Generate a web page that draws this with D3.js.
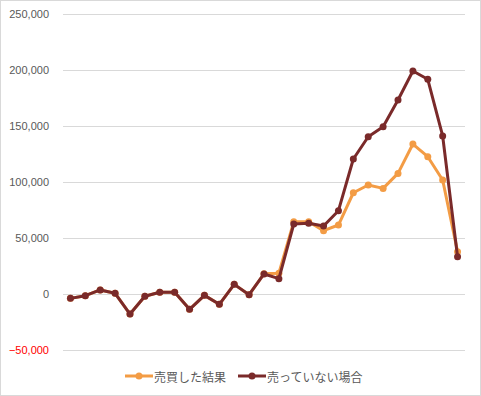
<!DOCTYPE html>
<html>
<head>
<meta charset="utf-8">
<script src="https://cdn.jsdelivr.net/npm/d3@7"></script>
<style>
  body { margin: 0; background: #fff; }
  text { font-family: "Noto Sans CJK JP", "Liberation Sans", sans-serif; }
</style>
</head>
<body>
<div id="chart"></div>
<script>
// Data
const periods = d3.range(1, 28);
const seriesNames = ["売買した結果", "売っていない場合"];
const traded = [-3900, -1500, 3600, 600, -17900, -2000, 1500, 1500, -13700, -1200, -9200, 8600, -600,
  18000, 18500, 64600, 64600, 56500, 61600, 90400, 97300, 94300, 107700, 133900, 122600, 101800, 37800];
const held = [-3900, -1500, 3600, 600, -17900, -2000, 1500, 1500, -13700, -1200, -9200, 8600, -600,
  17900, 13700, 62500, 63100, 60700, 74400, 120500, 140400, 149400, 173200, 199100, 191700, 141100, 33300];
const yTicks = [-50000, 0, 50000, 100000, 150000, 200000, 250000];
const colors = ["#F39C45", "#7A2A2A"];

const width = 481, height = 396;
const svg = d3.select("#chart").append("svg")
    .attr("width", width)
    .attr("height", height);

// Border
svg.append("rect")
    .attr("x", 0.5).attr("y", 0.5)
    .attr("width", width - 1).attr("height", height - 1)
    .attr("fill", "#fff")
    .attr("stroke", "#d9d9d9");

// Scales
const xScale = d3.scaleBand()
    .domain(periods)
    .range([63, 465]);
const yScale = d3.scaleLinear()
    .domain([-50000, 250000])
    .range([350, 14]);

// Gridlines
svg.append("g")
  .selectAll("line")
  .data(yTicks)
  .join("line")
    .attr("x1", 63).attr("x2", 465)
    .attr("y1", d => Math.round(yScale(d)) + 0.5)
    .attr("y2", d => Math.round(yScale(d)) + 0.5)
    .attr("stroke", "#d9d9d9");

// Left axis (labels only)
const fmt = d3.format(",");
const leftAxis = d3.axisLeft(yScale)
    .tickValues(yTicks)
    .tickSize(0)
    .tickPadding(0)
    .tickFormat(d => fmt(d));
const axisG = svg.append("g")
    .attr("transform", "translate(49, 0)")
    .call(leftAxis);
axisG.select(".domain").remove();
axisG.selectAll("text")
    .attr("fill", d => d < 0 ? "#FF0000" : "#595959")
    .style("font-size", "11px")
    .style("font-family", "'Liberation Sans', 'DejaVu Sans', sans-serif");

// Lines
const line = d3.line()
    .x((d, i) => xScale(periods[i]) + xScale.bandwidth() / 2)
    .y(d => yScale(d));

[traded, held].forEach((values, k) => {
  svg.append("path")
      .datum(values)
      .attr("fill", "none")
      .attr("stroke", colors[k])
      .attr("stroke-width", 3)
      .attr("stroke-linejoin", "round")
      .attr("d", line);
  svg.append("g")
    .selectAll("circle")
    .data(values)
    .join("circle")
      .attr("cx", (d, i) => xScale(periods[i]) + xScale.bandwidth() / 2)
      .attr("cy", d => yScale(d))
      .attr("r", 3.5)
      .attr("fill", colors[k]);
});

// Legend
const legendItems = [
  { name: seriesNames[0], color: colors[0], x: 125 },
  { name: seriesNames[1], color: colors[1], x: 238 }
];
const legend = svg.append("g")
  .selectAll("g")
  .data(legendItems)
  .join("g")
    .attr("transform", d => `translate(${d.x}, 376)`);
legend.append("line")
    .attr("x1", 0).attr("x2", 28)
    .attr("stroke", d => d.color)
    .attr("stroke-width", 3);
legend.append("circle")
    .attr("cx", 14).attr("r", 3.5)
    .attr("fill", d => d.color);
legend.append("text")
    .text(d => d.name)
    .attr("x", 29)
    .attr("dominant-baseline", "central")
    .attr("fill", "#595959")
    .style("font-size", "12px");
</script>
</body>
</html>
